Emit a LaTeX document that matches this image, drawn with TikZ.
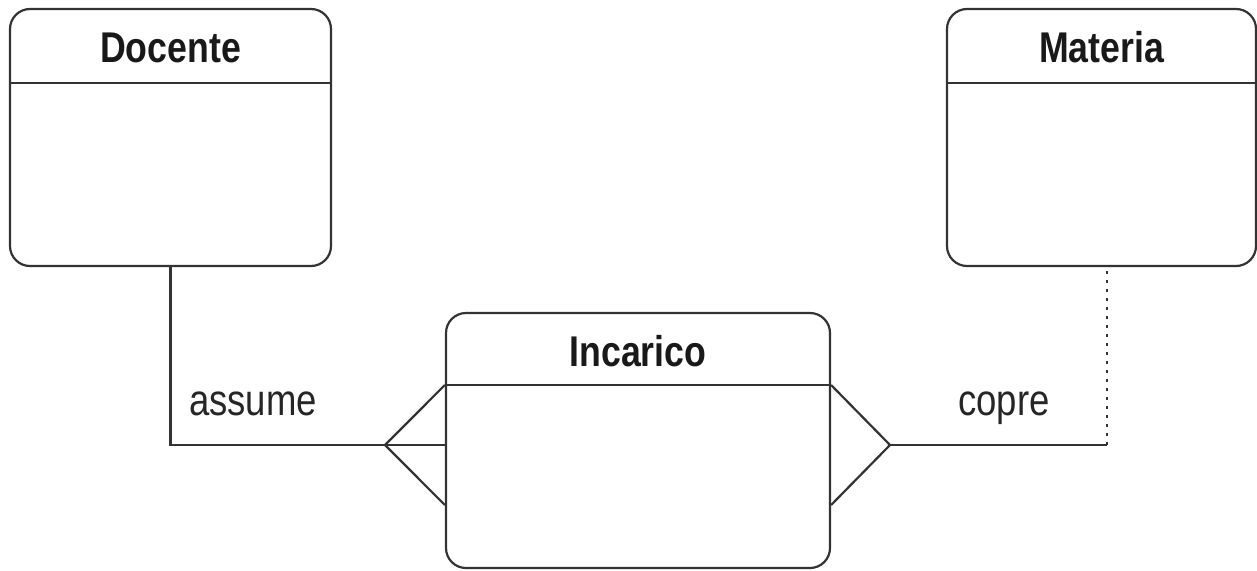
\documentclass[tikz,border=0pt]{standalone}
\usepackage{fontspec}
\setmainfont{Liberation Sans}[FakeStretch=0.83]
\usepackage{tikz}
\usepackage{xcolor}

\tikzset{
  entity/.style={draw=black!80, line width=2.2pt, rounded corners=20pt, inner sep=0pt},
  title/.style={font=\bfseries\fontsize{43}{48}\selectfont, text=black!90},
  rel/.style={font=\fontsize{44}{50}\selectfont, text=black!85, anchor=base},
}

\begin{document}
\begin{tikzpicture}[x=1pt,y=-1pt,line width=2.2pt,draw=black!80]
        \useasboundingbox (0,0) rectangle (1257,570);
        % entities
        \node[entity, minimum width=321pt, minimum height=257pt] (docente) at (170.5,137.5) {};
        \node[entity, minimum width=309pt, minimum height=257pt] (materia) at (1101.5,137.5) {};
        \node[entity, minimum width=384pt, minimum height=255pt] (incarico) at (638,440.5) {};
        \node[title] (docente name) at (170.5,47.5) {Docente};
        \node[title] (materia name) at (1101.5,47.5) {Materia};
        \node[title] (incarico name) at (638,351) {Incarico};
        \draw ([yshift=-75pt]docente.north west) -- ([yshift=-75pt]docente.north east);
        \draw ([yshift=-75pt]materia.north west) -- ([yshift=-75pt]materia.north east);
        \draw ([yshift=-73pt]incarico.north west) -- ([yshift=-73pt]incarico.north east);
        % assume: many side on incarico
        \coordinate (assume foot) at (385,445);
        \draw (docente.south) |- (assume foot);
        \draw (incarico.west |- 0,385) -- (assume foot) -- (incarico.west |- 0,505);
        \draw (assume foot) -- (incarico.west |- assume foot);
        \node[rel] (assume) at (253,415) {assume};
        % copre: optional side on materia
        \coordinate (copre foot) at (890,445);
        \coordinate (copre corner) at (1107,445);
        \draw (incarico.east |- 0,385) -- (copre foot) -- (incarico.east |- 0,505);
        \draw (copre foot) -- (copre corner);
        \draw[dash pattern=on 3.5pt off 5.5pt] (copre corner) -- (copre corner |- materia.south);
        \node[rel] (copre) at (1004,415) {copre};
    \end{tikzpicture}
\end{document}
